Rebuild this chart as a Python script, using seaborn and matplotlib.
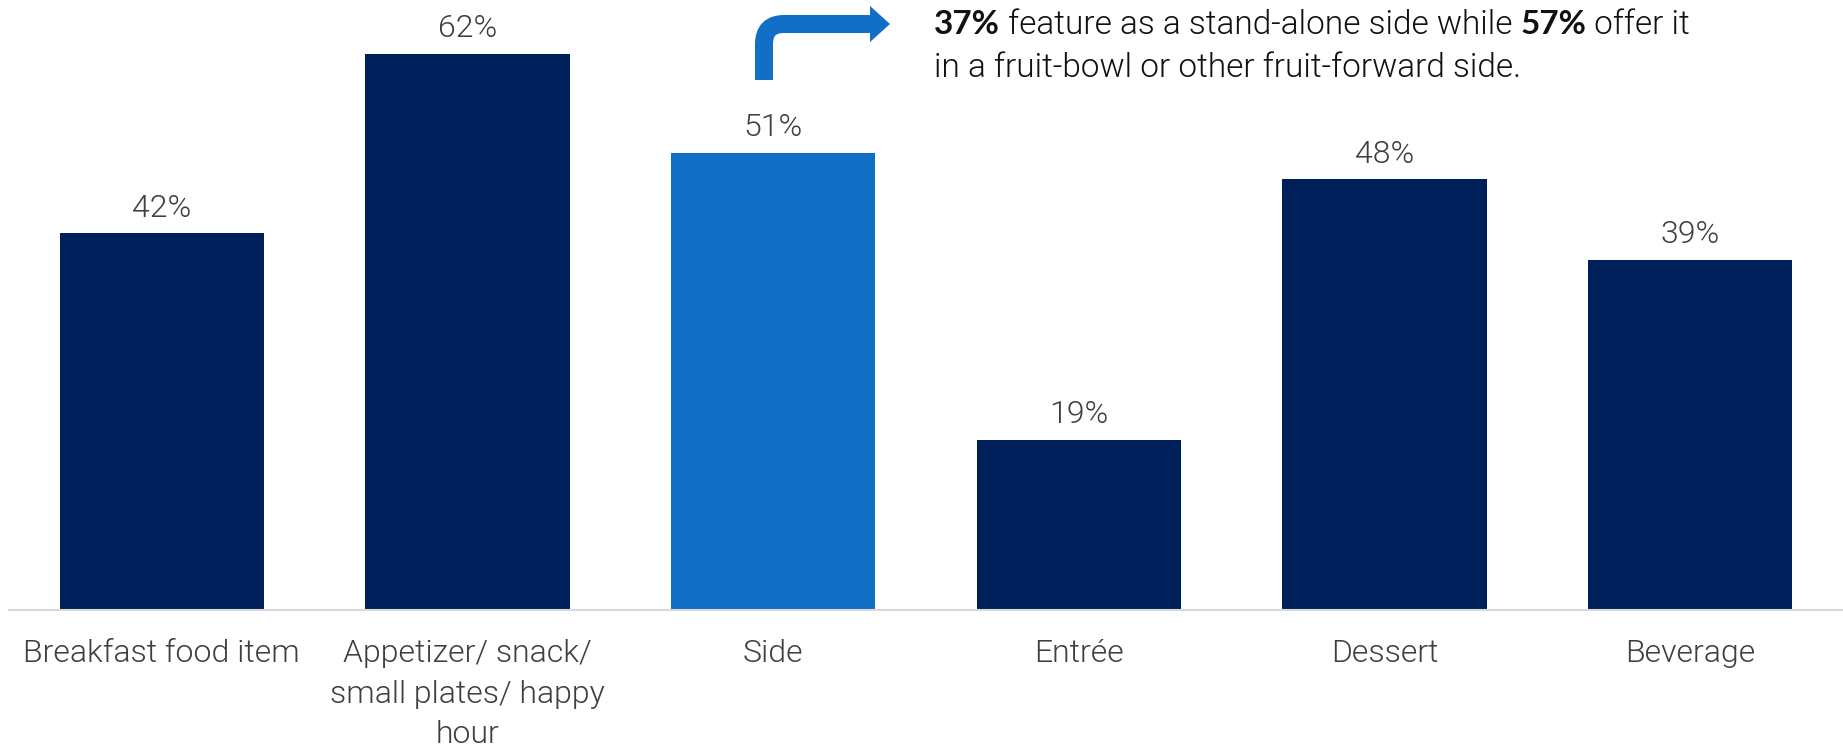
import matplotlib
matplotlib.use("Agg")
import matplotlib.pyplot as plt
from matplotlib.path import Path
from matplotlib.patches import PathPatch, Polygon
import seaborn as sns

categories = ["Breakfast food item", "Appetizer/ snack/\nsmall plates/ happy\nhour", "Side",
              "Entrée", "Dessert", "Beverage"]
values = [42, 62, 51, 19, 48, 39]
highlight = "Side"

NAVY = "#00205B"
BLUE = "#1170C6"
LABEL_GREY = "#3f3f3f"
FONT = "Roboto"
LIGHT = 300

sns.set_theme(style="white")
plt.rcParams["font.family"] = [FONT, "DejaVu Sans"]

W, H = 1843, 747
fig = plt.figure(figsize=(W / 100, H / 100), dpi=100)
ax = fig.add_axes([9 / W, 137 / H, 1 - 9 / W, 610 / H])

palette = {c: (BLUE if c == highlight else NAVY) for c in categories}
sns.barplot(x=categories, y=values, hue=categories, palette=palette, legend=False,
            width=0.668, saturation=1, ax=ax, linewidth=0)

ax.set_xlim(-0.5, 5.5)
ax.set_ylim(0, 68.0)
ax.set_yticks([])
ax.set_ylabel("")
for side in ["left", "right", "top"]:
    ax.spines[side].set_visible(False)
ax.spines["bottom"].set_color("#d9d9d9")
ax.spines["bottom"].set_linewidth(1.5)

ax.tick_params(axis="x", length=0, pad=21)
ax.set_xticks(range(len(categories)))
ax.set_xticklabels(categories, fontsize=23, color=LABEL_GREY, fontweight=LIGHT,
                   linespacing=1.5)

for i, v in enumerate(values):
    ax.annotate(f"{v}%", xy=(i, v), xytext=(0, 12), textcoords="offset points",
                ha="center", va="baseline", fontsize=23, color=LABEL_GREY,
                fontweight=LIGHT)

# elbow arrow pointing from the Side bar towards the note
def px(x, y):
    return (x, H - y)

r = 20
verts = [px(764, 80), px(764, 24 + r), px(764, 24), px(764 + r, 24), px(872, 24)]
codes = [Path.MOVETO, Path.LINETO, Path.CURVE3, Path.CURVE3, Path.LINETO]
stem = PathPatch(Path(verts, codes), facecolor="none", edgecolor=BLUE,
                 linewidth=18 * 0.72, capstyle="butt", joinstyle="miter",
                 transform=None)
fig.add_artist(stem)
head = Polygon([px(870, 6), px(890, 24), px(870, 42)], closed=True, facecolor=BLUE,
               edgecolor="none", transform=None)
fig.add_artist(head)

# note text with bold figures
note_lines = [
    [("37%", 700), (" feature as a stand-alone side while ", LIGHT), ("57%", 700),
     (" offer it", LIGHT)],
    [("in a fruit-bowl or other fruit-forward side.", LIGHT)],
]
note_y = [25, 68]
fig.canvas.draw()
renderer = fig.canvas.get_renderer()
for parts, y in zip(note_lines, note_y):
    x = 934
    for s, wgt in parts:
        fam = ["Lato", "DejaVu Sans"] if wgt == 700 else [FONT, "DejaVu Sans"]
        t = fig.text(x / W, 1 - y / H, s, fontsize=24, fontweight=wgt, family=fam,
                     color="#111111", ha="left", va="center")
        bb = t.get_window_extent(renderer)
        x += bb.width

fig.savefig("out.png", dpi=100)
